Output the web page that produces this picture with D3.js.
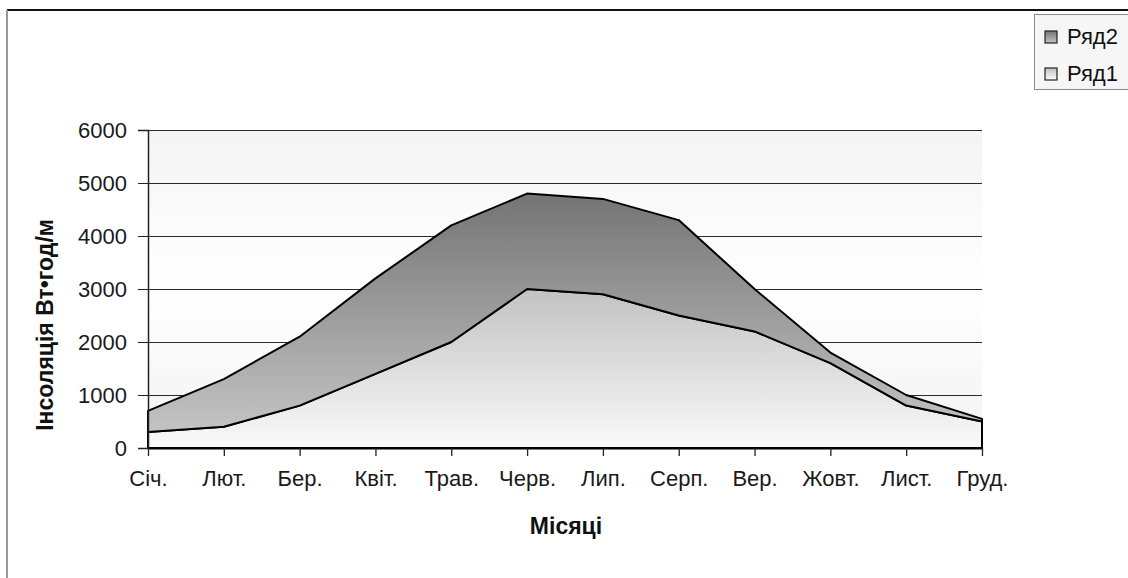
<!DOCTYPE html>
<html>
<head>
<meta charset="utf-8">
<script src="https://cdn.jsdelivr.net/npm/d3@7"></script>
<style>
  body { margin: 0; background: #fff; }
  svg { display: block; font-family: "Liberation Sans", Arial, sans-serif; }
</style>
</head>
<body>
<div id="chart"></div>
<script>
// months on the x axis
const months = ["Січ.", "Лют.", "Бер.", "Квіт.", "Трав.", "Черв.", "Лип.", "Серп.", "Вер.", "Жовт.", "Лист.", "Груд."]
// lower series
const row1 = [300, 400, 800, 1400, 2000, 3000, 2900, 2500, 2200, 1600, 800, 500]
// stacked on top of row1
const row2 = [400, 900, 1300, 1800, 2200, 1800, 1800, 1800, 800, 200, 200, 50]
const yTicks = [0, 1000, 2000, 3000, 4000, 5000, 6000]
const seriesNames = ["Ряд1", "Ряд2"]

const width = 1128, height = 578
const marginLeft = 148, marginRight = 146, marginTop = 130, marginBottom = 130

const svg = d3.select("#chart").append("svg")
    .attr("width", width)
    .attr("height", height)

const defs = svg.append("defs")
function vgrad(id, stops) {
    const g = defs.append("linearGradient").attr("id", id)
        .attr("x1", 0).attr("y1", 0).attr("x2", 0).attr("y2", 1)
    stops.forEach(([o, c]) => g.append("stop").attr("offset", o).attr("stop-color", c))
}
vgrad("bgGrad", [[0, "#f4f4f4"], [0.5, "#ffffff"], [1, "#f2f2f2"]])
vgrad("r1Grad", [[0, "#c2c2c2"], [1, "#fafafa"]])
vgrad("r2Grad", [[0, "#747474"], [1, "#c4c4c4"]])

// chart area border (top and left visible)
svg.append("line").attr("x1", 7).attr("x2", width).attr("y1", 10).attr("y2", 10)
    .attr("stroke", "#111").attr("stroke-width", 2)
svg.append("line").attr("x1", 7).attr("x2", 7).attr("y1", 10).attr("y2", height)
    .attr("stroke", "#999").attr("stroke-width", 2)

const x = d3.scalePoint().domain(months).range([marginLeft, width - marginRight])
const y = d3.scaleLinear().domain([0, 6000]).range([height - marginBottom, marginTop])

// plot background
svg.append("rect")
    .attr("x", marginLeft).attr("y", y(6000))
    .attr("width", x.range()[1] - marginLeft).attr("height", y(0) - y(6000))
    .attr("fill", "url(#bgGrad)")

// gridlines
svg.append("g")
    .selectAll("line")
    .data(yTicks.filter(d => d > 0))
    .join("line")
    .attr("x1", marginLeft).attr("x2", x.range()[1])
    .attr("y1", d => Math.round(y(d)) + 0.5).attr("y2", d => Math.round(y(d)) + 0.5)
    .attr("stroke", "#2a2a2a").attr("stroke-width", 1.2)

// stacked areas
const table = months.map((m, i) => ({month: m, "Ряд1": row1[i], "Ряд2": row2[i]}))
const stacked = d3.stack().keys(seriesNames)(table)

const area = d3.area()
    .x(d => x(d.data.month))
    .y0(d => y(d[0]))
    .y1(d => y(d[1]))

svg.append("g")
    .selectAll("path")
    .data(stacked)
    .join("path")
    .attr("fill", d => d.key === "Ряд1" ? "url(#r1Grad)" : "url(#r2Grad)")
    .attr("stroke", "#000")
    .attr("stroke-width", 2)
    .attr("stroke-linejoin", "round")
    .attr("d", area)

// y axis
const yAxis = d3.axisLeft(y).tickValues(yTicks).tickSize(10).tickPadding(11).tickFormat(d3.format("d"))
svg.append("g")
    .attr("transform", `translate(${marginLeft},0)`)
    .call(yAxis)
    .call(g => g.select(".domain").attr("stroke", "#222").attr("stroke-width", 1.5))
    .call(g => g.selectAll(".tick line").attr("stroke", "#222"))
    .call(g => g.selectAll(".tick text")
        .attr("font-size", 22)
        .attr("font-family", "Liberation Sans, Arial, sans-serif")
        .attr("fill", "#1a1a1a"))

// x axis
const xAxis = d3.axisBottom(x).tickSize(8).tickPadding(14).tickSizeOuter(0)
svg.append("g")
    .attr("transform", `translate(0,${y(0)})`)
    .call(xAxis)
    .call(g => g.select(".domain").attr("stroke", "#000").attr("stroke-width", 2))
    .call(g => g.selectAll(".tick line").attr("stroke", "#222").attr("stroke-width", 1.3))
    .call(g => g.selectAll(".tick text")
        .attr("font-size", 22)
        .attr("font-family", "Liberation Sans, Arial, sans-serif")
        .attr("fill", "#1a1a1a"))

// axis titles
svg.append("text")
    .attr("transform", "translate(53,325) rotate(-90)")
    .attr("text-anchor", "middle")
    .attr("font-size", 23)
    .attr("font-weight", "bold")
    .attr("fill", "#111")
    .text("Інсоляція Вт•год/м")

svg.append("text")
    .attr("x", 566).attr("y", 534)
    .attr("text-anchor", "middle")
    .attr("font-size", 23)
    .attr("font-weight", "bold")
    .attr("fill", "#111")
    .text("Місяці")

// legend
const legend = svg.append("g").attr("transform", "translate(1034,14)")
legend.append("rect")
    .attr("x", 0.5).attr("y", 0.5).attr("width", 110).attr("height", 75)
    .attr("fill", "#f6f6f6").attr("stroke", "#888")
const legendItems = [
    {name: "Ряд2", fill: "url(#r2Grad)", yy: 17},
    {name: "Ряд1", fill: "url(#r1Grad)", yy: 54}
]
legendItems.forEach(it => {
    legend.append("rect")
        .attr("x", 11).attr("y", it.yy).attr("width", 12).attr("height", 12)
        .attr("fill", it.fill).attr("stroke", "#222").attr("stroke-width", 1.2)
    legend.append("text")
        .attr("x", 33).attr("y", it.yy + 13)
        .attr("font-size", 22)
        .attr("fill", "#111")
        .text(it.name)
})
</script>
</body>
</html>
